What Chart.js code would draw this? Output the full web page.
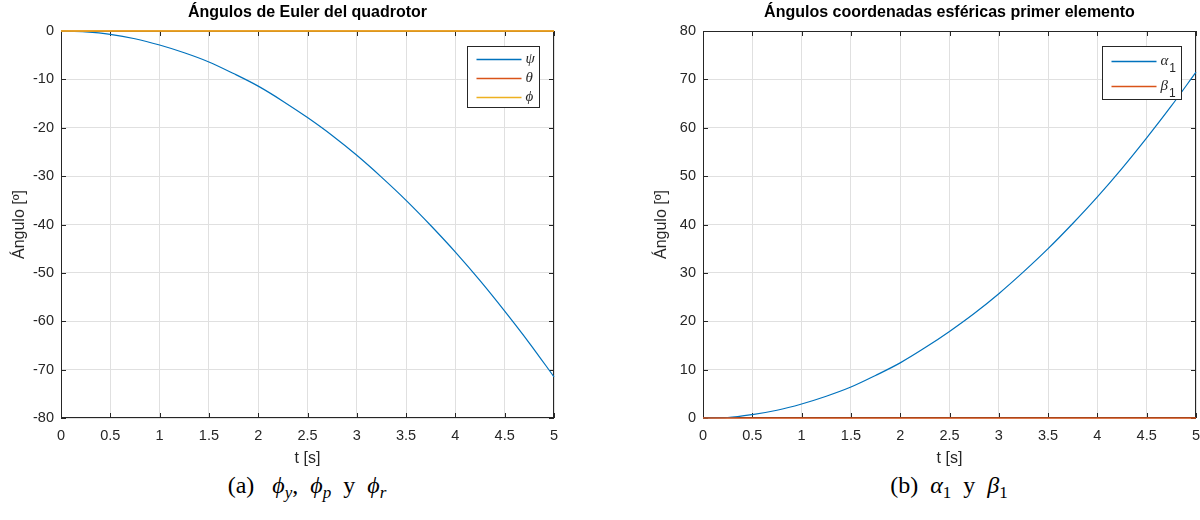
<!DOCTYPE html>
<html lang="es">
<head>
<meta charset="UTF-8">
<title>Ángulos</title>
<script src="https://cdn.jsdelivr.net/npm/chart.js"></script>
<style>
    body { margin: 0; background: #fff; width: 1200px; height: 520px; position: relative; overflow: hidden; }
    .panel { position: absolute; top: 0; width: 600px; height: 470px; }
    .caption {
        position: absolute; top: 472px; width: 500px; text-align: center; white-space: nowrap;
        font-family: "Liberation Serif", "DejaVu Serif", serif; font-size: 24px; color: #000;
    }
    .caption i { font-style: italic; }
    .caption sub { font-size: 17px; vertical-align: -5px; line-height: 0; }
</style>
</head>
<body>
<div class="panel" style="left:0"><canvas id="eulerChart" width="600" height="470"></canvas></div>
<div class="panel" style="left:642px"><canvas id="esfChart" width="600" height="470"></canvas></div>
<div class="caption" style="left:57px">(a)&nbsp;&nbsp; <i>ϕ<sub>y</sub></i>,&nbsp; <i>ϕ<sub>p</sub></i>&nbsp; y&nbsp; <i>ϕ<sub>r</sub></i></div>
<div class="caption" style="left:699px">(b)&nbsp; <i>α</i><sub>1</sub> &nbsp;y&nbsp; <i>β</i><sub>1</sub></div>

<script>
// tiempo [s]
const t = [0, 0.25, 0.5, 0.75, 1, 1.25, 1.5, 1.75, 2, 2.25, 2.5, 2.75, 3, 3.25, 3.5, 3.75, 4, 4.25, 4.5, 4.75, 5];

// ángulos de Euler
const psi   = [0, -0.2, -0.7, -1.6, -2.9, -4.5, -6.4, -8.8, -11.4, -14.5, -17.9, -21.6, -25.7, -30.2, -35.0, -40.2, -45.7, -51.6, -57.9, -64.5, -71.5];
const theta = [0, 0, 0, 0, 0, 0, 0, 0, 0, 0, 0, 0, 0, 0, 0, 0, 0, 0, 0, 0, 0];
const phi   = [0, 0, 0, 0, 0, 0, 0, 0, 0, 0, 0, 0, 0, 0, 0, 0, 0, 0, 0, 0, 0];

// coordenadas esféricas primer elemento
const alpha1 = [0, 0.1, 0.7, 1.6, 2.9, 4.5, 6.4, 8.8, 11.4, 14.5, 17.9, 21.6, 25.7, 30.2, 35.0, 40.2, 45.7, 51.6, 57.9, 64.5, 71.5];
const beta1  = [0, 0, 0, 0, 0, 0, 0, 0, 0, 0, 0, 0, 0, 0, 0, 0, 0, 0, 0, 0, 0];

// ticks
const xTicks  = [0, 0.5, 1, 1.5, 2, 2.5, 3, 3.5, 4, 4.5, 5];
const yTicksA = [-80, -70, -60, -50, -40, -30, -20, -10, 0];
const yTicksB = [0, 10, 20, 30, 40, 50, 60, 70, 80];

const AXIS = '#262626';
const GRID = '#e0e0e0';
const SANS = '"Liberation Sans", Arial, sans-serif';
const SERIF = '"Liberation Serif", "DejaVu Serif", serif';
const C1 = '#0072BD', C2 = '#D95319', C3 = '#EDB120';

function pts(ys) {
    return t.map((x, i) => ({ x: x, y: ys[i] }));
}

// caja, ticks hacia dentro, título y leyenda al estilo MATLAB
const matlabFrame = {
    id: 'matlabFrame',
    beforeDatasetsDraw(chart) {
        const { ctx, chartArea: a, scales } = chart;
        ctx.save();
        ctx.strokeStyle = AXIS;
        ctx.lineWidth = 1;
        ctx.strokeRect(Math.round(a.left) + 0.5, Math.round(a.top) + 0.5,
            Math.round(a.right - a.left) - 1, Math.round(a.bottom - a.top) - 1);
        ctx.beginPath();
        const len = 5;
        scales.x.ticks.forEach(tk => {
            const px = Math.round(scales.x.getPixelForValue(tk.value)) + 0.5;
            ctx.moveTo(px, a.bottom); ctx.lineTo(px, a.bottom - len);
            ctx.moveTo(px, a.top); ctx.lineTo(px, a.top + len);
        });
        scales.y.ticks.forEach(tk => {
            const py = Math.round(scales.y.getPixelForValue(tk.value)) + 0.5;
            ctx.moveTo(a.left, py); ctx.lineTo(a.left + len, py);
            ctx.moveTo(a.right, py); ctx.lineTo(a.right - len, py);
        });
        ctx.stroke();
        ctx.restore();
    },
    afterDraw(chart, args, opts) {
        const { ctx, chartArea: a } = chart;
        ctx.save();
        // título
        ctx.fillStyle = '#000';
        ctx.font = 'bold 16px ' + SANS;
        ctx.textAlign = 'center';
        ctx.textBaseline = 'middle';
        ctx.fillText(opts.title, (a.left + a.right) / 2, 13);

        // leyenda
        const lg = opts.legend;
        const bx = Math.round(a.right - 15 - lg.w) + 0.5, by = Math.round(a.top + 15) + 0.5;
        ctx.fillStyle = '#fff';
        ctx.fillRect(bx, by, lg.w, lg.h);
        ctx.strokeStyle = AXIS;
        ctx.lineWidth = 1;
        ctx.strokeRect(bx, by, lg.w, lg.h);
        chart.data.datasets.forEach((ds, i) => {
            const y = Math.round(by + lg.rows[i]) + 0.5;
            ctx.strokeStyle = ds.borderColor;
            ctx.lineWidth = 1.5;
            ctx.beginPath();
            ctx.moveTo(bx + 9, y); ctx.lineTo(bx + 54, y);
            ctx.stroke();
            ctx.fillStyle = AXIS;
            ctx.textAlign = 'left';
            ctx.textBaseline = 'middle';
            ctx.font = 'italic 15px ' + SERIF;
            ctx.fillText(ds.label, bx + 58, y);
            if (ds.sub) {
                const w = ctx.measureText(ds.label).width;
                ctx.font = '12px ' + SANS;
                ctx.fillText(ds.sub, bx + 59 + w, y + 7);
            }
        });
        ctx.restore();
    }
};

function makeChart(id, title, yMin, yMax, yTicks, datasets, legend) {
    return new Chart(document.getElementById(id), {
        type: 'line',
        data: { datasets: datasets },
        options: {
            responsive: false,
            animation: false,
            layout: { padding: { top: 31, right: 46, left: 0, bottom: 0 } },
            elements: { point: { radius: 0 }, line: { borderWidth: 1.2, cubicInterpolationMode: 'monotone' } },
            datasets: { line: { clip: 2 } },
            plugins: {
                legend: { display: false },
                tooltip: { enabled: false },
                matlabFrame: { title: title, legend: legend }
            },
            scales: {
                x: {
                    type: 'linear', min: 0, max: 5,
                    afterBuildTicks: ax => { ax.ticks = xTicks.map(v => ({ value: v })); },
                    afterFit: ax => { ax.height = 52; },
                    grid: { color: GRID, drawTicks: false },
                    border: { display: false },
                    ticks: { color: AXIS, padding: 9, maxRotation: 0, autoSkip: false,
                        font: { family: SANS, size: 14.5 }, callback: v => String(v) },
                    title: { display: true, text: 't [s]', color: AXIS,
                        font: { family: SANS, size: 16 }, padding: { top: 0, bottom: 2 } }
                },
                y: {
                    type: 'linear', min: yMin, max: yMax,
                    afterBuildTicks: ax => { ax.ticks = yTicks.map(v => ({ value: v })); },
                    afterFit: ax => { ax.width = 61; },
                    grid: { color: GRID, drawTicks: false },
                    border: { display: false },
                    ticks: { color: AXIS, padding: 7, font: { family: SANS, size: 14.5 }, callback: v => String(v) },
                    title: { display: true, text: 'Ángulo [º]', color: AXIS,
                        font: { family: SANS, size: 16 }, padding: { top: 10, bottom: 0 } }
                }
            }
        },
        plugins: [matlabFrame]
    });
}

// order: el último trazado en MATLAB queda encima
makeChart('eulerChart', 'Ángulos de Euler del quadrotor', -80, 0, yTicksA, [
    { label: 'ψ', data: pts(psi), borderColor: C1, backgroundColor: C1, order: 3 },
    { label: 'θ', data: pts(theta), borderColor: C2, backgroundColor: C2, borderWidth: 1.6, order: 2 },
    { label: 'ϕ', data: pts(phi), borderColor: C3, backgroundColor: C3, borderWidth: 1.6, order: 1 }
], { w: 72, h: 61, rows: [12, 31, 50] });

makeChart('esfChart', 'Ángulos coordenadas esféricas primer elemento', 0, 80, yTicksB, [
    { label: 'α', sub: '1', data: pts(alpha1), borderColor: C1, backgroundColor: C1, order: 2 },
    { label: 'β', sub: '1', data: pts(beta1), borderColor: C2, backgroundColor: C2, borderWidth: 1.6, order: 1 }
], { w: 79, h: 53, rows: [14, 39] });
</script>
</body>
</html>
